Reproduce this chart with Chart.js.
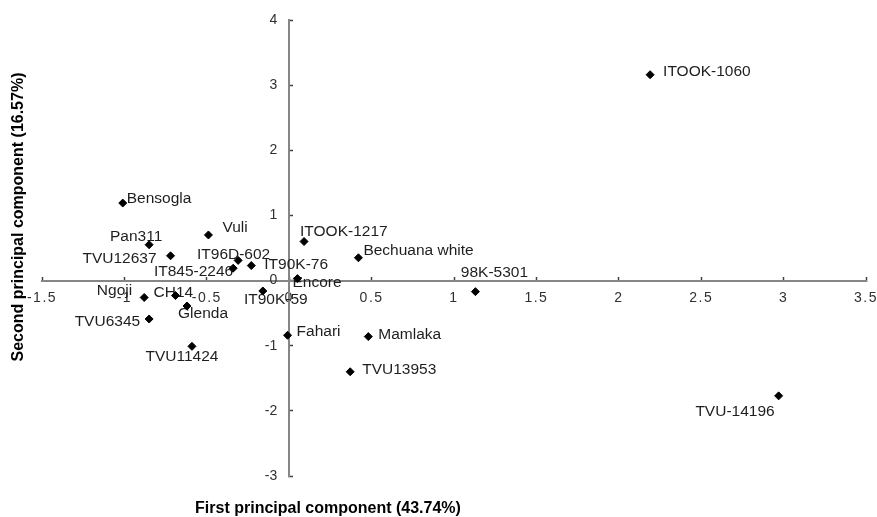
<!DOCTYPE html>
<html>
<head>
<meta charset="utf-8">
<script src="https://cdn.jsdelivr.net/npm/chart.js@4/dist/chart.umd.min.js"></script>
<style>
  html, body { margin: 0; padding: 0; background: #ffffff; }
  #wrap { width: 877px; height: 517px; }
</style>
</head>
<body>
<div id="wrap"><canvas id="pca" width="877" height="517"></canvas></div>
<script>
// Cowpea genotypes and their scores on the first two principal components
const genotypes = ['ITOOK-1060', 'TVU-14196', 'Bensogla', 'Pan311', 'TVU12637', 'Vuli',
  'IT96D-602', 'IT845-2246', 'IT90K-76', 'ITOOK-1217', 'Bechuana white', 'Encore',
  'IT90K-59', '98K-5301', 'Fahari', 'Mamlaka', 'TVU13953', 'Ngoji', 'CH14', 'Glenda',
  'TVU6345', 'TVU11424'];
const pc1 = [2.19, 2.97, -1.01, -0.85, -0.72, -0.49, -0.31, -0.34, -0.23, 0.09, 0.42, 0.05,
  -0.16, 1.13, -0.01, 0.48, 0.37, -0.88, -0.69, -0.62, -0.85, -0.59];
const pc2 = [3.16, -1.77, 1.19, 0.55, 0.38, 0.70, 0.31, 0.19, 0.23, 0.60, 0.35, 0.03,
  -0.16, -0.17, -0.84, -0.86, -1.40, -0.26, -0.23, -0.39, -0.59, -1.01];

// Axis ticks
const xTicks = [-1.5, -1, -0.5, 0, 0.5, 1, 1.5, 2, 2.5, 3, 3.5];
const yTicks = [-3, -2, -1, 0, 1, 2, 3, 4];

const xTitle = 'First principal component (43.74%)';
const yTitle = 'Second principal component (16.57%)';

// Where each name sits next to its marker: [textAlign, dx, dy]
const labelPlacement = [
  ['left', 13, -3], ['right', -4, 16], ['left', 4, -4], ['center', -13, -8],
  ['right', -14, 3], ['left', 14, -7], ['center', -4.5, -6], ['right', 0, 4],
  ['left', 13, -1], ['left', -4, -10], ['left', 5, -7], ['left', -5, 4],
  ['center', 13, 9], ['center', 19, -19], ['left', 9, -4], ['left', 10, -2],
  ['left', 12, -2], ['right', -12, -7], ['left', -22, -3], ['left', -9, 8],
  ['right', -9, 3], ['center', -10, 10]
];

const points = pc1.map((x, i) => ({ x: x, y: pc2[i] }));

const LABEL_FONT = '15.5px "Liberation Sans", Arial, sans-serif';
const TITLE_FONT = 'bold 16px "Liberation Sans", Arial, sans-serif';

// Names beside the markers (drawn before the markers so the diamonds sit on top)
const pointNames = {
  id: 'pointNames',
  beforeDatasetsDraw(chart) {
    const ctx = chart.ctx;
    const meta = chart.getDatasetMeta(0);
    ctx.save();
    ctx.font = LABEL_FONT;
    ctx.fillStyle = '#1e1e1e';
    ctx.textBaseline = 'middle';
    meta.data.forEach((el, i) => {
      const p = labelPlacement[i];
      ctx.textAlign = p[0];
      ctx.fillText(genotypes[i], el.x + p[1], el.y + p[2]);
    });
    ctx.restore();
  }
};

// Axis titles placed in the outer margin
const axisTitles = {
  id: 'axisTitles',
  afterDraw(chart) {
    const ctx = chart.ctx;
    ctx.save();
    ctx.font = TITLE_FONT;
    ctx.fillStyle = '#000000';
    ctx.textAlign = 'center';
    ctx.textBaseline = 'middle';
    ctx.fillText(xTitle, 328, 509);
    ctx.translate(18.5, 217);
    ctx.rotate(-Math.PI / 2);
    ctx.fillText(yTitle, 0, 0);
    ctx.restore();
  }
};

// Spaced-out numerals on the horizontal axis, and a small gap for the vertical axis numbers
const tickLabelStyle = {
  id: 'tickLabelStyle',
  beforeDraw(chart) {
    const sx = chart.scales.x;
    const sy = chart.scales.y;
    if (!sx._styled) {
      const ox = sx.drawLabels;
      sx.drawLabels = function (area) {
        const c = this.ctx;
        c.save();
        c.letterSpacing = '1.5px';
        ox.call(this, area);
        c.restore();
      };
      sx._styled = true;
    }
    if (!sy._styled) {
      const oy = sy.drawLabels;
      sy.drawLabels = function (area) {
        const c = this.ctx;
        c.save();
        c.translate(-12, 0);
        oy.call(this, area);
        c.restore();
      };
      sy._styled = true;
    }
  }
};

const plainNumber = (v) => String(v);

new Chart(document.getElementById('pca'), {
  type: 'scatter',
  data: {
    datasets: [{
      data: points,
      pointStyle: 'rectRot',
      pointRadius: 4,
      pointBorderWidth: 1,
      backgroundColor: '#000000',
      borderColor: '#000000'
    }]
  },
  options: {
    responsive: false,
    animation: false,
    devicePixelRatio: 1,
    layout: { padding: { left: 42, right: 11, top: 20, bottom: 41 } },
    plugins: {
      legend: { display: false },
      tooltip: { enabled: false }
    },
    scales: {
      x: {
        type: 'linear',
        position: { y: 0 },
        min: -1.5,
        max: 3.5,
        afterBuildTicks: (s) => { s.ticks = xTicks.map(v => ({ value: v })); },
        afterFit: (s) => { s.height = 0; s.paddingLeft = 0; s.paddingRight = 0; },
        border: { display: true, color: '#868686', width: 2 },
        grid: { drawOnChartArea: false, drawTicks: true, tickLength: -5, tickColor: '#404040', tickWidth: 1.5 },
        ticks: {
          autoSkip: false,
          maxRotation: 0,
          padding: 14,
          color: '#303030',
          callback: plainNumber,
          font: { family: '"Liberation Sans", Arial, sans-serif', size: 14 }
        }
      },
      y: {
        type: 'linear',
        position: { x: 0 },
        min: -3,
        max: 4,
        afterBuildTicks: (s) => { s.ticks = yTicks.map(v => ({ value: v })); },
        afterFit: (s) => { s.width = 0; s.paddingTop = 0; s.paddingBottom = 0; },
        border: { display: true, color: '#868686', width: 2 },
        grid: { drawOnChartArea: false, drawTicks: true, tickLength: -5, tickColor: '#404040', tickWidth: 1.5 },
        ticks: {
          autoSkip: false,
          padding: 0,
          color: '#303030',
          callback: plainNumber,
          font: { family: '"Liberation Sans", Arial, sans-serif', size: 14 }
        }
      }
    }
  },
  plugins: [tickLabelStyle, pointNames, axisTitles]
});
</script>
</body>
</html>
